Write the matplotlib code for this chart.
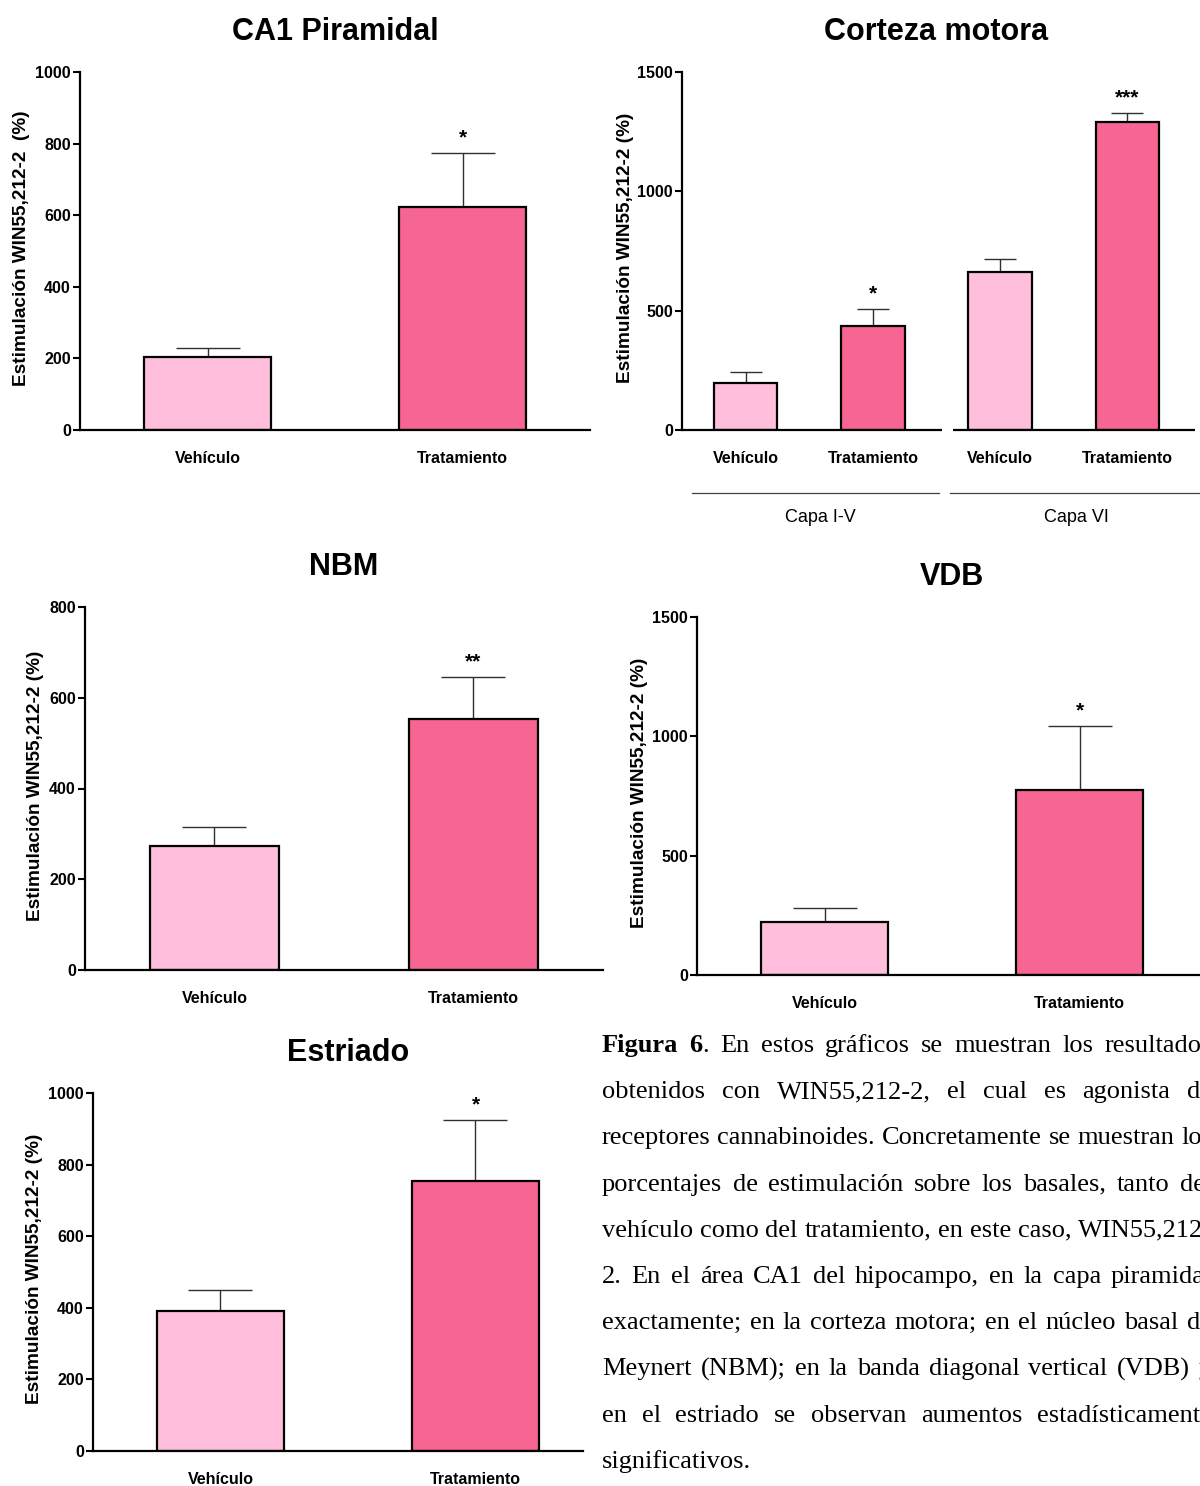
import matplotlib
matplotlib.use('Agg')
import matplotlib.pyplot as plt
import matplotlib.transforms as mtransforms
import numpy as np

plt.rcParams['font.family'] = ['Liberation Sans', 'DejaVu Sans']

W, H = 1200, 1486
DPI = 100

# ---------------- data ----------------
categories = ['Vehículo', 'Tratamiento']

ca1_means = [203, 623]
ca1_sem = [26, 151]
ca1_sig = ['', '*']

cm_categories = ['Vehículo', 'Tratamiento', 'Vehículo', 'Tratamiento']
cm_means = [197, 436, 662, 1290]
cm_sem = [46, 71, 54, 38]
cm_sig = ['', '*', '', '***']
cm_groups = ['Capa I-V', 'Capa VI']

nbm_means = [273, 553]
nbm_sem = [42, 92]
nbm_sig = ['', '**']

vdb_means = [222, 775]
vdb_sem = [59, 268]
vdb_sig = ['', '*']

est_means = [391, 754]
est_sem = [59, 171]
est_sig = ['', '*']

titles = ['CA1 Piramidal', 'Corteza motora', 'NBM', 'VDB', 'Estriado']
ylabel_ca1 = 'Estimulación WIN55,212-2  (%)'
ylabel_std = 'Estimulación WIN55,212-2 (%)'

caption_lines = [
    'Figura 6. En estos gráficos se muestran los resultados',
    'obtenidos con WIN55,212-2, el cual es agonista de',
    'receptores cannabinoides. Concretamente se muestran los',
    'porcentajes de estimulación sobre los basales, tanto del',
    'vehículo como del tratamiento, en este caso, WIN55,212-',
    '2. En el área CA1 del hipocampo, en la capa piramidal',
    'exactamente; en la corteza motora; en el núcleo basal de',
    'Meynert (NBM); en la banda diagonal vertical (VDB) y',
    'en el estriado se observan aumentos estadísticamente',
    'significativos.',
]

LIGHT = '#FEBEDC'
DARK = '#F76592'

fig = plt.figure(figsize=(W / DPI, H / DPI), dpi=DPI)
fig.patch.set_facecolor('white')


def add_axes_px(l, t, r, b):
    return fig.add_axes([l / W, 1 - b / H, (r - l) / W, (b - t) / H])


def panel(box, cats, means, sems, sigs, colors, ymax, ystep, title, ylab,
          ylab_off, spine_right=None):
    ax = add_axes_px(*box)
    n = len(cats)
    x = np.arange(n)
    ax.bar(x, means, width=0.5, color=colors, edgecolor='black',
           linewidth=1.6, zorder=2)
    bar_px = 0.5 * (box[2] - box[0]) / n
    cap = bar_px * 0.25 * 72 / DPI
    ax.errorbar(x, means, yerr=[np.zeros(n), sems], fmt='none',
                ecolor='#303030', elinewidth=1.0, capsize=cap,
                capthick=1.0, zorder=1)
    for xi, m, e, s in zip(x, means, sems, sigs):
        if s:
            ax.annotate(s, (xi, m + e), xytext=(0, 7),
                        textcoords='offset points', ha='center',
                        va='baseline', fontsize=15, fontweight='bold',
                        annotation_clip=False)
    ax.set_xlim(-0.5, n - 0.5)
    ax.set_ylim(0, ymax)
    yt = np.arange(0, ymax + 1, ystep)
    ax.set_yticks(yt, [str(int(v)) for v in yt], fontweight='bold',
                  fontsize=11.5)
    ax.set_xticks(x, cats, fontweight='bold', fontsize=11.5)
    ax.tick_params(axis='y', length=5, width=1.5, pad=1.5, direction='out')
    ax.tick_params(axis='x', length=0, pad=15)
    for sp in ['top', 'right']:
        ax.spines[sp].set_visible(False)
    for sp in ['left', 'bottom']:
        ax.spines[sp].set_linewidth(1.6)
    if spine_right is not None:
        ax.spines['bottom'].set_bounds(-0.5, spine_right)
    ax.patch.set_alpha(0)
    cx = (box[0] + box[2]) / 2
    fig.text(cx / W, 1 - (box[1] - 40) / H, title, ha='center', va='center',
             fontsize=22, fontweight='bold')
    fig.text((box[0] - ylab_off) / W, 1 - ((box[1] + box[3]) / 2 - 3) / H,
             ylab, rotation=90, ha='center', va='center', fontsize=13.7,
             fontweight='bold')
    return ax


# Panel 1: CA1 Piramidal
panel((80, 72, 590, 430), categories, ca1_means, ca1_sem, ca1_sig,
      [LIGHT, DARK], 1000, 200, titles[0], ylabel_ca1, 58)

# Panel 2: Corteza motora
ax2 = panel((682, 72, 1191, 430), cm_categories, cm_means, cm_sem, cm_sig,
            [LIGHT, DARK, LIGHT, DARK], 1500, 500, titles[1], ylabel_std, 56)
ax2.spines['bottom'].set_visible(False)
tr = mtransforms.blended_transform_factory(ax2.transData, ax2.transAxes)
for (x0, x1) in [(-0.5, 1.54), (1.63, 3.53)]:
    ax2.plot([x0, x1], [0, 0], color='black', lw=1.6, transform=tr,
             clip_on=False, solid_capstyle='butt')
for (x0, x1) in [(-0.42, 1.52), (1.61, 3.8)]:
    ax2.plot([x0, x1], [-63 / 358, -63 / 358], color='#404040', lw=0.9,
             transform=tr, clip_on=False)
ax2.text(0.59, -87 / 358, cm_groups[0], transform=tr, ha='center',
         va='center', fontsize=13)
ax2.text(2.6, -87 / 358, cm_groups[1], transform=tr, ha='center',
         va='center', fontsize=13)

# Panel 3: NBM
panel((85, 607, 603, 970), categories, nbm_means, nbm_sem, nbm_sig,
      [LIGHT, DARK], 800, 200, titles[2], ylabel_std, 49)

# Panel 4: VDB
panel((697, 617, 1207, 975), categories, vdb_means, vdb_sem, vdb_sig,
      [LIGHT, DARK], 1500, 500, titles[3], ylabel_std, 58)

# Panel 5: Estriado
panel((93, 1093, 603, 1451), categories, est_means, est_sem, est_sig,
      [LIGHT, DARK], 1000, 200, titles[4], ylabel_std, 58, spine_right=1.42)

# ---------------- caption (justified) ----------------
renderer = fig.canvas.get_renderer()
CAP_FS = 19
CAP_FAM = ['Liberation Serif', 'DejaVu Serif']


def measure(s, weight='normal'):
    t = fig.text(0, 0, s, fontsize=CAP_FS, family=CAP_FAM, fontweight=weight)
    w = t.get_window_extent(renderer).width
    t.remove()
    return w


space_w = measure('a a') - measure('aa')
x_left, x_right = 602, 1212
base0, lstep = 1052, 46.2

for i, line in enumerate(caption_lines):
    words = line.split(' ')
    segs_per_word = []
    for j, wd in enumerate(words):
        if i == 0 and j == 0:
            segs_per_word.append([(wd, 'bold')])
        elif i == 0 and j == 1:
            segs_per_word.append([('6', 'bold'), ('.', 'normal')])
        else:
            segs_per_word.append([(wd, 'normal')])
    widths = [sum(measure(s, w) for s, w in segs) for segs in segs_per_word]
    last = (i == len(caption_lines) - 1)
    if last or len(words) == 1:
        gap = space_w
    else:
        gap = max(space_w * 0.8,
                  (x_right - x_left - sum(widths)) / (len(words) - 1))
    xpos = x_left
    y = 1 - (base0 + i * lstep) / H
    for segs, wdt in zip(segs_per_word, widths):
        xs = xpos
        for s, w in segs:
            fig.text(xs / W, y, s, fontsize=CAP_FS, family=CAP_FAM,
                     fontweight=w, ha='left', va='baseline')
            xs += measure(s, w)
        xpos += wdt + gap

fig.savefig('out.png', dpi=DPI)
